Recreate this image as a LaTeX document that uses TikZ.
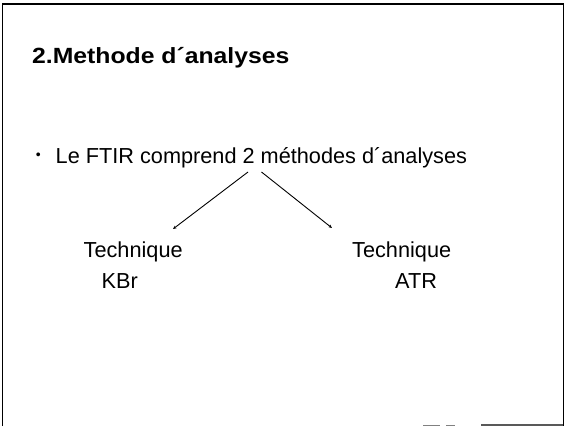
\documentclass[tikz,border=0pt]{standalone}
\usepackage{fontspec}
\usepackage{graphicx}
\setmainfont{Liberation Sans}
\usetikzlibrary{arrows.meta}
\begin{document}
\begin{tikzpicture}[x=1pt,y=1pt,
  txt/.style={inner sep=0pt,anchor=base west,font=\fontsize{21.7}{24}\selectfont},
  ttl/.style={inner sep=0pt,anchor=base west,font=\fontsize{22}{26}\selectfont\bfseries},
  frame/.style={line width=1.6pt,black},
  conn/.style={line width=0.9pt,-{Stealth[length=3.5pt,width=3pt]}}]
\useasboundingbox[fill=white] (0,0) rectangle (565,426);
% frame
\draw[frame] (2.5,0) -- (2.5,422) -- (563.5,422) -- (563.5,0);
\draw[line width=1pt,gray] (423,1) -- (440,1) (446,1) -- (455,1);
\draw[line width=1.2pt,gray!70!black] (481,1) -- (563,1);
% title
\node[ttl] (title) at (32,362) {\scalebox{1.125}[1]{2.Methode d\symbol{"00B4}analyses}};
% bullet line
\node[inner sep=0pt,font=\fontsize{14}{16}\selectfont] (dot) at (38.3,270) {•};
\node[txt] (main) at (55.5,262.7) {Le FTIR comprend 2 méthodes d\symbol{"00B4}analyses};
% branch coordinates
\coordinate (s1) at (248,254);
\coordinate (s2) at (261.5,254);
\coordinate (e1) at (173,197);
\coordinate (e2) at (332,198);
\draw[conn] (s1) -- (e1);
\draw[conn] (s2) -- (e2);
% leaves
\node[txt] (t1) at (83.5,168) {Technique};
\node[txt] (k1) at (101.5,137) {KBr};
\node[txt] (t2) at (352,168) {Technique};
\node[txt] (k2) at (395,137) {ATR};
\end{tikzpicture}
\end{document}
